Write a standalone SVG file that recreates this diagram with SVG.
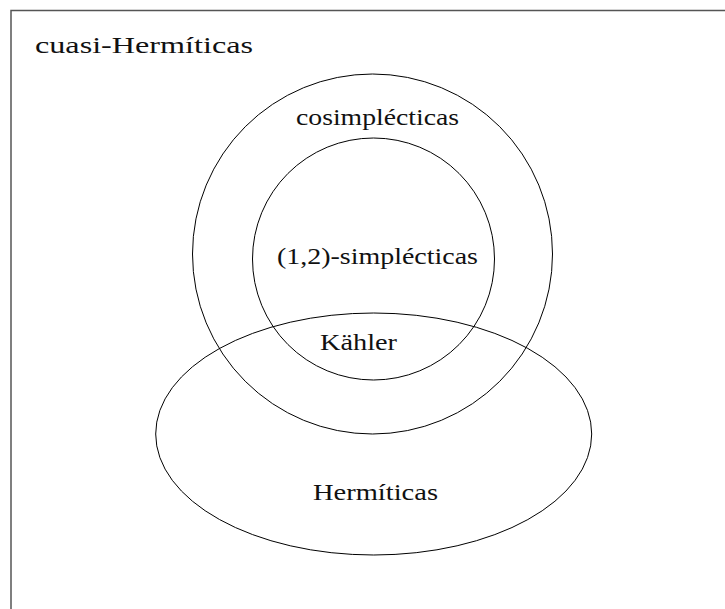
<svg xmlns="http://www.w3.org/2000/svg" width="725" height="609" viewBox="0 0 725 609">
<style>
.frame{fill:none;stroke:#555;stroke-width:1.5}
.set{fill:none;stroke:#000;stroke-width:1}
.lbl{font-family:"Liberation Serif","DejaVu Serif",serif;font-size:23px;fill:#111}
</style>
<rect width="725" height="609" fill="#fff"/>
<g id="cuasi-hermiticas">
<path class="frame" d="M11,609 V10.5 H725"/>
<text class="lbl" x="35" y="53" textLength="218" lengthAdjust="spacingAndGlyphs">cuasi-Hermíticas</text>
</g>
<g id="cosimplecticas">
<circle class="set" cx="372.5" cy="254" r="180"/>
<text class="lbl" x="377.5" y="125" text-anchor="middle" textLength="163" lengthAdjust="spacingAndGlyphs">cosimplécticas</text>
</g>
<g id="simplecticas12">
<circle class="set" cx="373.5" cy="259" r="121"/>
<text class="lbl" x="377.5" y="264" text-anchor="middle" textLength="201" lengthAdjust="spacingAndGlyphs">(1,2)-simplécticas</text>
</g>
<g id="hermiticas">
<ellipse class="set" cx="373.7" cy="434" rx="218" ry="121"/>
<text class="lbl" x="375.5" y="500" text-anchor="middle" textLength="125" lengthAdjust="spacingAndGlyphs">Hermíticas</text>
</g>
<g id="kahler">
<text class="lbl" x="358.5" y="350" text-anchor="middle" textLength="77" lengthAdjust="spacingAndGlyphs">Kähler</text>
</g>
<g id="connectors"/>
</svg>
